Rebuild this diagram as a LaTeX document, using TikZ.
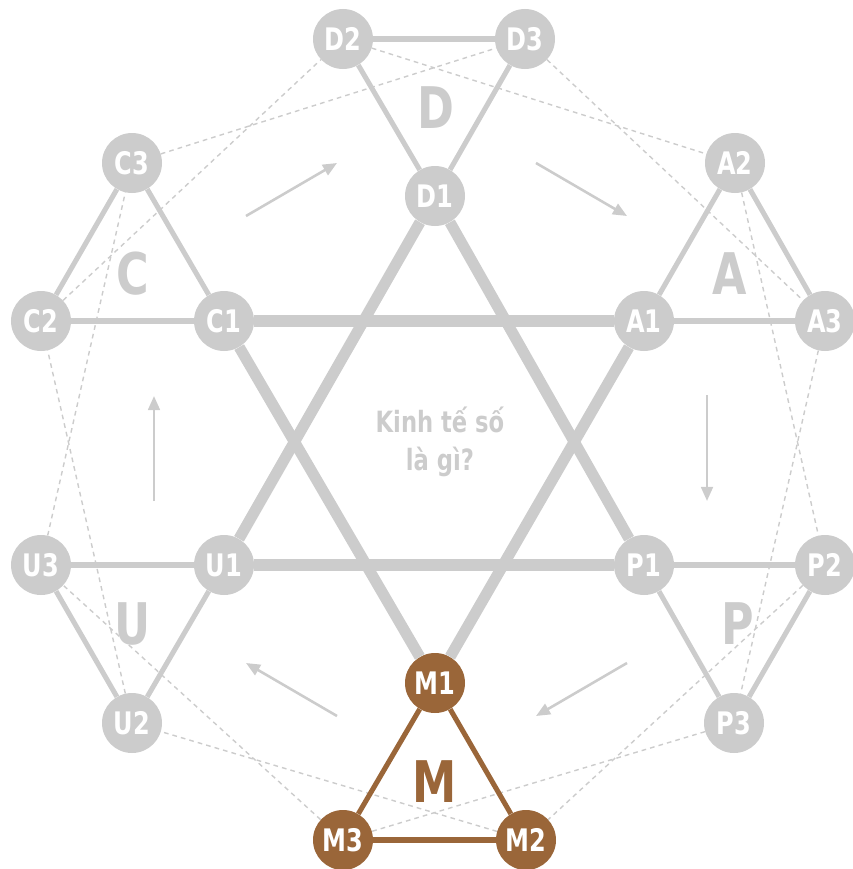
\documentclass[tikz,border=0pt]{standalone}
\usepackage{fontspec}
\setmainfont{DejaVu Sans Condensed}[FakeStretch=0.86]
\usetikzlibrary{arrows.meta}
\definecolor{nodegrey}{HTML}{CCCCCC}
\definecolor{mbrown}{HTML}{9A6639}

\begin{document}
\begin{tikzpicture}[
        x=0.03cm, y=-0.03cm,
        >={Triangle[length=12pt, width=10pt]},
        vertex/.style={circle, fill=nodegrey, minimum size=1.8cm, inner sep=0pt, text=white, font=\bfseries\fontsize{26.5}{26.5}\selectfont},
        mvertex/.style={vertex, fill=mbrown},
        letter/.style={text=nodegrey, font=\bfseries\fontsize{49}{49}\selectfont},
        centre/.style={text=nodegrey, align=center, font=\bfseries\fontsize{25}{32.5}\selectfont},
        star/.style={line width=9.5pt, draw=nodegrey},
        tri/.style={line width=4.3pt, draw=nodegrey},
        ring/.style={line width=1.2pt, draw=nodegrey, dash pattern=on 4pt off 3.5pt},
        flow/.style={->, line width=2.2pt, draw=nodegrey},
    ]

    \useasboundingbox (0,0) rectangle (853,869);

    % Draw the outer nodes
    \foreach \name / \x / \y in {D1/435/196, D2/343/39, D3/525/39,
                                 A1/644/321, A2/735/163, A3/825/321,
                                 P1/644/565, P2/825/565, P3/734/723,
                                 U1/224/565, U2/132/723, U3/41/565,
                                 C1/224/321, C2/41/321, C3/132/163}
        \node[vertex] (\name) at (\x,\y) {\name};

    % The highlighted group
    \foreach \name / \x / \y in {M1/435/683, M2/526/840, M3/343/840}
        \node[mvertex] (\name) at (\x,\y) {\name};

    % Dotted rings through the outer corners
    \foreach \a / \b in {C2/D2, D2/A2, A2/P2, P2/M2, M2/U2, U2/C2,
                         C3/D3, D3/A3, A3/P3, P3/M3, M3/U3, U3/C3}
        \draw[ring] (\a) -- (\b);

    % The big star
    \foreach \a / \b in {D1/U1, U1/P1, P1/D1, M1/C1, C1/A1, A1/M1}
        \draw[star] (\a) -- (\b);

    % Small triangles on every point of the star
    \foreach \a / \b / \c in {D1/D2/D3, A1/A2/A3, P1/P2/P3, U1/U2/U3, C1/C2/C3} {
        \draw[tri] (\a) -- (\b);
        \draw[tri] (\b) -- (\c);
        \draw[tri] (\c) -- (\a);
    }
    \draw[tri, draw=mbrown] (M1) -- (M2);
    \draw[tri, draw=mbrown] (M2) -- (M3);
    \draw[tri, draw=mbrown] (M3) -- (M1);

    % Letters of the groups
    \foreach \l / \x / \y in {D/436/108, A/730/274, P/738/624, U/133/624, C/133/274}
        \node[letter] (L-\l) at (\x,\y) {\l};
    \node[letter, text=mbrown] (L-M) at (435,782) {M};

    \node[centre] (title) at (440,442) {Kinh tế số\\là gì?};

    % Arrows going round
    \foreach \i / \sx / \sy / \ex / \ey in {1/246/216/337/163, 2/536/163/627/216,
                                            3/707/395/707/501, 4/627/663/536/716,
                                            5/337/716/246/663, 6/154/501/154/396} {
        \coordinate (s\i) at (\sx,\sy);
        \coordinate (e\i) at (\ex,\ey);
        \draw[flow] (s\i) -- (e\i);
    }
\end{tikzpicture}
\end{document}
